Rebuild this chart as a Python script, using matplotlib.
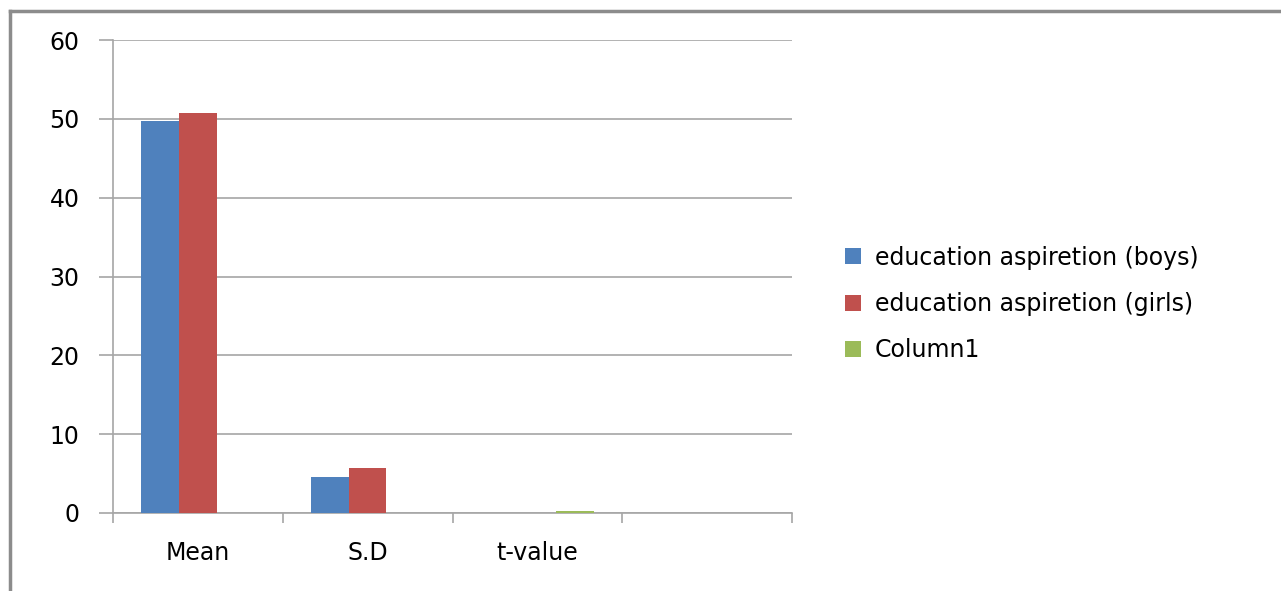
import numpy as np
import matplotlib
matplotlib.use("Agg")
from matplotlib import pyplot as plt
from matplotlib.lines import Line2D

categories = ['Mean', 'S.D', 't-value', '']
boys = [49.7, 4.6, 0, 0]
girls = [50.8, 5.7, 0, 0]
column1 = [0, 0, 0.2, 0]
series_names = ['education aspiretion (boys)', 'education aspiretion (girls)', 'Column1']
colors = ['#4F81BD', '#C0504D', '#9BBB59']

plt.rcParams['font.family'] = ['DejaVu Sans']

fig = plt.figure(figsize=(12.81, 5.91), dpi=100)
ax = fig.add_axes([113 / 1281, 78 / 591, 679 / 1281, 473 / 591])

x = np.arange(len(categories))
w = 1 / 4.5
for i, (vals, name, c) in enumerate(zip([boys, girls, column1], series_names, colors)):
    ax.bar(x + (i - 1) * w, vals, width=w, color=c, label=name, zorder=3,
           linewidth=0)

ax.set_xlim(-0.5, len(categories) - 0.5)
ax.set_ylim(0, 60)
ax.set_yticks(range(0, 61, 10))
ax.yaxis.grid(True, color='#A6A6A6', linewidth=1.2, zorder=0)

ax.set_xticks(x)
ax.set_xticklabels(categories, fontsize=17)
ax.tick_params(axis='x', length=0, pad=20)
ax.set_xticks(np.arange(-0.5, len(categories)), minor=True)
ax.tick_params(axis='x', which='minor', length=7, width=1.2, color='#A6A6A6')
ax.tick_params(axis='y', length=10, width=1.2, color='#A6A6A6', labelsize=17, pad=14)

for s in ['top', 'right']:
    ax.spines[s].set_visible(False)
for s in ['left', 'bottom']:
    ax.spines[s].set_color('#A6A6A6')
    ax.spines[s].set_linewidth(1.2)

ax.legend(loc='center left', bbox_to_anchor=(824 / 1281, 1 - 304 / 591),
          bbox_transform=fig.transFigure, frameon=False, fontsize=17,
          handlelength=0.65, handleheight=0.65, handletextpad=0.6,
          labelspacing=0.95)

# outer chart frame (left and top edges)
fig.add_artist(Line2D([10 / 1281, 10 / 1281], [0, 1 - 11 / 591],
                      transform=fig.transFigure, color='#8C8C8C', linewidth=2.5))
fig.add_artist(Line2D([10 / 1281, 1], [1 - 11 / 591, 1 - 11 / 591],
                      transform=fig.transFigure, color='#8C8C8C', linewidth=2.5))

fig.savefig('out.png', dpi=100)
